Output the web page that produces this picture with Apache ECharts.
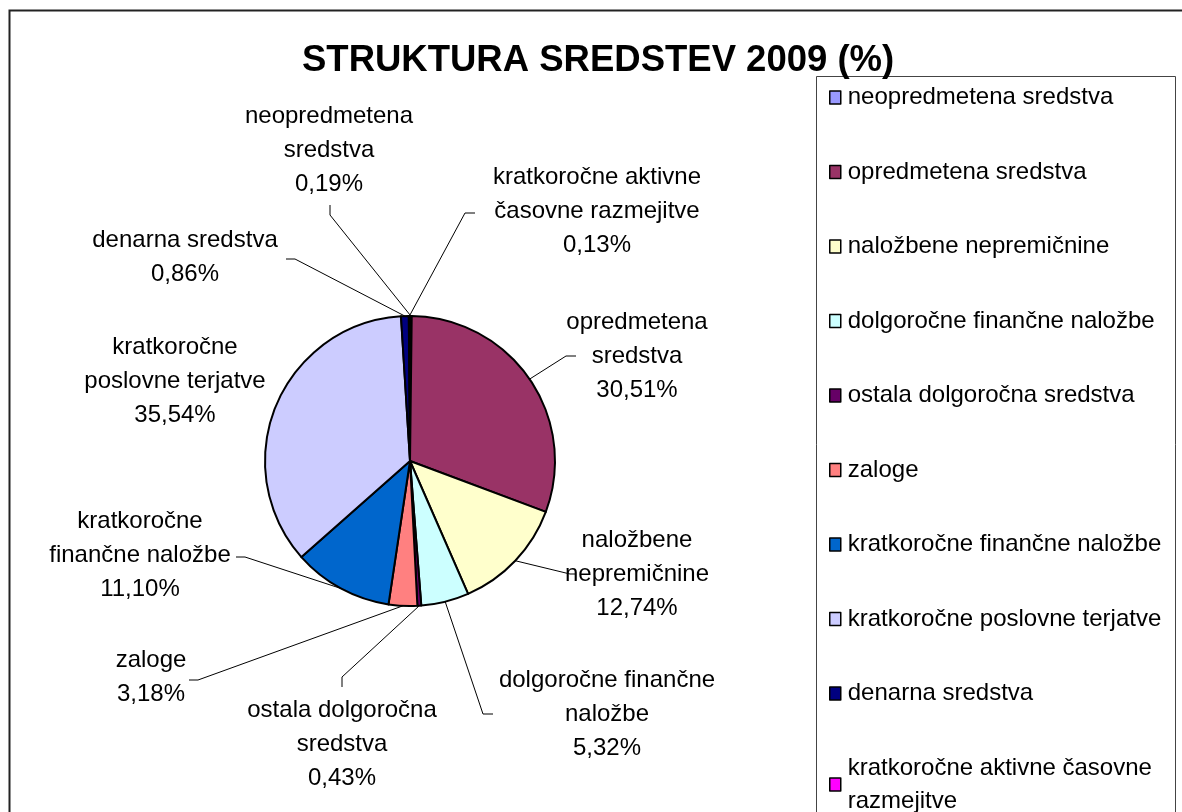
<!DOCTYPE html>
<html style="height: 100%">

<head>
    <meta charset="utf-8">
</head>

<body style="height: 100%; margin: 0; background: #fff">
    <div id="container" style="width: 1182px; height: 812px"></div>
    <script type="text/javascript" src="https://cdn.jsdelivr.net/npm/echarts@6/dist/echarts.min.js"></script>

    <script type="text/javascript">
        // podatki
        var categories = ['neopredmetena sredstva', 'opredmetena sredstva', 'naložbene nepremičnine',
            'dolgoročne finančne naložbe', 'ostala dolgoročna sredstva', 'zaloge',
            'kratkoročne finančne naložbe', 'kratkoročne poslovne terjatve', 'denarna sredstva',
            'kratkoročne aktivne časovne razmejitve'];
        var shares = [0.19, 30.51, 12.74, 5.32, 0.43, 3.18, 11.10, 35.54, 0.86, 0.13];
        var labelNames = ['neopredmetena\nsredstva', 'opredmetena\nsredstva', 'naložbene\nnepremičnine',
            'dolgoročne finančne\nnaložbe', 'ostala dolgoročna\nsredstva', 'zaloge',
            'kratkoročne\nfinančne naložbe', 'kratkoročne\nposlovne terjatve', 'denarna sredstva',
            'kratkoročne aktivne\nčasovne razmejitve'];
        var colors = ['#9999FF', '#993366', '#FFFFCC', '#CCFFFF', '#660066', '#FF8080',
            '#0066CC', '#CCCCFF', '#000080', '#FF00FF'];

        // postavitev oznak: sredina besedila, koleno in konec črte
        var PIE_CX = 410, PIE_CY = 461, PIE_R = 145;
        var labelSpots = [
            { text: [329, 150], line: [[330, 215], [330, 205]] },
            { text: [637, 356], line: [[566, 356], [576, 356]] },
            { text: [637, 574], line: [[570, 574], [576, 574]] },
            { text: [607, 714], line: [[483, 714], [493, 714]] },
            { text: [342, 744], line: [[342, 677], [342, 687]] },
            { text: [151, 677], line: [[198, 680], [189, 680]] },
            { text: [140, 555], line: [[245, 557], [236, 557]] },
            { text: [175, 381], line: null },
            { text: [185, 257], line: [[295, 259], [286, 259]] },
            { text: [597, 211], line: [[465, 213], [475, 213]] }
        ];

        var total = shares.reduce(function (a, b) { return a + b; }, 0);
        function edgePoint(idx) {
            var before = 0;
            for (var i = 0; i < idx; i++) before += shares[i];
            var a = (before + shares[idx] / 2) / total * Math.PI * 2;
            return [PIE_CX + PIE_R * Math.sin(a), PIE_CY - PIE_R * Math.cos(a)];
        }

        var dom = document.getElementById("container");
        var myChart = echarts.init(dom);

        var option = {
            animation: false,
            color: colors,
            title: {
                text: 'STRUKTURA SREDSTEV 2009 (%)',
                left: 297,
                top: 37,
                textStyle: {
                    fontFamily: 'Liberation Sans',
                    fontSize: 36.5,
                    fontWeight: 'bold',
                    color: '#000'
                }
            },
            graphic: [
                {
                    type: 'rect',
                    shape: { x: 9.5, y: 10.5, width: 1200, height: 850 },
                    style: { fill: null, stroke: '#222', lineWidth: 2 },
                    silent: true
                },
                {
                    type: 'rect',
                    shape: { x: 816.5, y: 76.5, width: 359, height: 780 },
                    style: { fill: '#fff', stroke: '#444', lineWidth: 1 },
                    silent: true,
                    z: 0
                }
            ],
            legend: {
                orient: 'vertical',
                left: 824,
                top: 76,
                height: 1200,
                itemWidth: 11,
                itemHeight: 13,
                itemGap: 41.5,
                icon: 'rect',
                selectedMode: false,
                data: categories.map(function (c) {
                    return { name: c, itemStyle: { borderColor: '#000', borderWidth: 1.5 } };
                }),
                formatter: function (name) {
                    return name === 'kratkoročne aktivne časovne razmejitve'
                        ? 'kratkoročne aktivne časovne\nrazmejitve' : name;
                },
                textStyle: {
                    fontFamily: 'Liberation Sans',
                    fontSize: 24,
                    lineHeight: 33,
                    color: '#000',
                    padding: [0, 0, 0, 2]
                },
                z: 5
            },
            series: [{
                type: 'pie',
                center: [PIE_CX, PIE_CY],
                radius: PIE_R,
                startAngle: 90,
                clockwise: true,
                avoidLabelOverlap: false,
                itemStyle: { borderColor: '#000', borderWidth: 2 },
                label: {
                    show: true,
                    position: 'outside',
                    fontFamily: 'Liberation Sans',
                    fontSize: 24,
                    lineHeight: 34,
                    color: '#000',
                    align: 'center',
                    formatter: function (p) {
                        return labelNames[p.dataIndex] + '\n' + p.value.toFixed(2).replace('.', ',') + '%';
                    }
                },
                labelLine: {
                    show: true,
                    lineStyle: { color: '#000', width: 1 }
                },
                labelLayout: function (p) {
                    var spot = labelSpots[p.dataIndex];
                    var res = {
                        x: spot.text[0],
                        y: spot.text[1],
                        align: 'center',
                        verticalAlign: 'middle'
                    };
                    if (spot.line) {
                        res.labelLinePoints = [edgePoint(p.dataIndex), spot.line[0], spot.line[1]];
                    }
                    return res;
                },
                emphasis: { disabled: true },
                data: categories.map(function (c, i) {
                    var d = { name: c, value: shares[i] };
                    if (!labelSpots[i].line) d.labelLine = { show: false };
                    return d;
                })
            }]
        };

        myChart.setOption(option);
    </script>
</body>

</html>
